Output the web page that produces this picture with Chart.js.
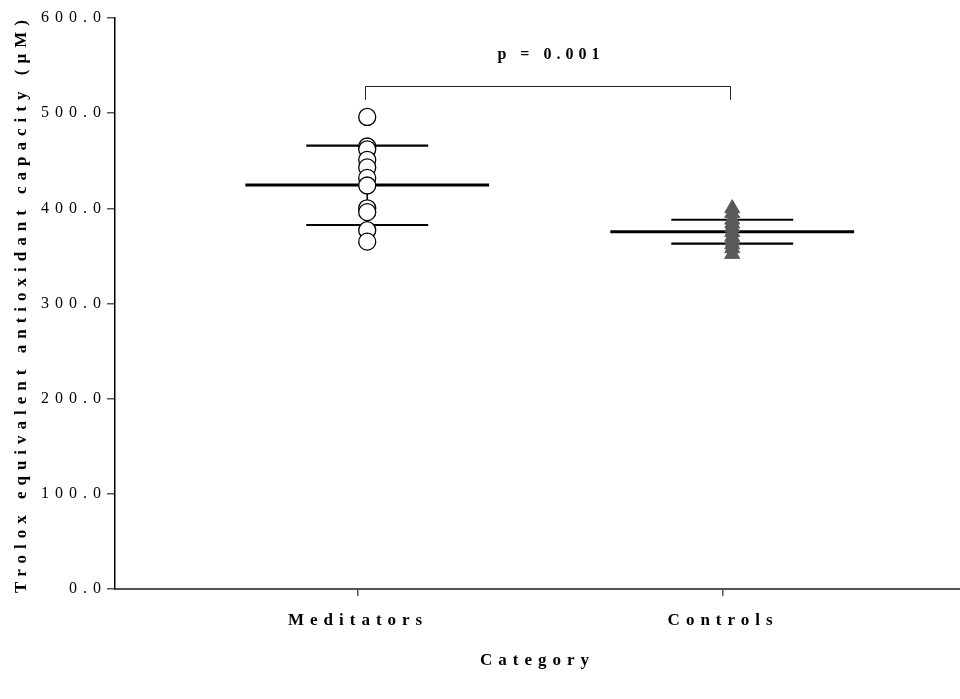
<!DOCTYPE html>
<html>
<head>
<meta charset="utf-8">
<script src="https://cdn.jsdelivr.net/npm/chart.js@4.4.1/dist/chart.umd.min.js"></script>
<style>
  html, body { margin: 0; padding: 0; background: #fff; }
  #wrap { width: 960px; height: 699px; }
</style>
</head>
<body>
<div id="wrap"><canvas id="chart" width="960" height="699"></canvas></div>
<script>
// data
const categories = ['Meditators', 'Controls'];
const groupX = [1, 2];
const meditators = [496, 465, 462, 451, 443, 432, 424, 400, 396, 377, 365];
const controls = [400, 395, 388, 384, 380, 375, 370, 366, 362, 358, 352];
const groupMean = [424.5, 375.5];
const groupUpper = [465.8, 388];
const groupLower = [382.5, 363];
const yTicks = [0, 100, 200, 300, 400, 500, 600];
const pLabel = 'p = 0.001';
const bracketY = 528.5;
const bracketLegY = 514;
const pLabelY = 561;

const markOffset = 0.025;
const meanHalf = 0.334;
const sdHalf = 0.167;
const serif = "'Liberation Serif', 'Times New Roman', serif";

const letterSpacing = {
    id: 'letterSpacing',
    beforeUpdate(chart) { chart.ctx.letterSpacing = '6px'; },
    beforeDraw(chart) { chart.ctx.letterSpacing = '6px'; }
};

// mean / SD lines and the significance bracket
const summaryLines = {
    id: 'summaryLines',
    beforeDatasetsDraw(chart) {
        const { ctx, scales: { x, y } } = chart;
        ctx.save();
        ctx.strokeStyle = '#000';
        groupX.forEach((g, i) => {
            const cx = g + markOffset;
            // vertical bar
            ctx.lineWidth = 1.5;
            ctx.beginPath();
            ctx.moveTo(x.getPixelForValue(cx), y.getPixelForValue(groupLower[i]));
            ctx.lineTo(x.getPixelForValue(cx), y.getPixelForValue(groupUpper[i]));
            ctx.stroke();
            // mean
            ctx.lineWidth = 3;
            ctx.beginPath();
            ctx.moveTo(x.getPixelForValue(cx - meanHalf), y.getPixelForValue(groupMean[i]));
            ctx.lineTo(x.getPixelForValue(cx + meanHalf), y.getPixelForValue(groupMean[i]));
            ctx.stroke();
            // sd
            ctx.lineWidth = 2.2;
            [groupUpper[i], groupLower[i]].forEach(v => {
                ctx.beginPath();
                ctx.moveTo(x.getPixelForValue(cx - sdHalf), y.getPixelForValue(v));
                ctx.lineTo(x.getPixelForValue(cx + sdHalf), y.getPixelForValue(v));
                ctx.stroke();
            });
        });
        // bracket
        const x1 = x.getPixelForValue(groupX[0] + markOffset - 0.005);
        const x2 = x.getPixelForValue(groupX[1] + markOffset - 0.005);
        const yb = Math.round(y.getPixelForValue(bracketY)) + 0.5;
        const yl = y.getPixelForValue(bracketLegY);
        ctx.lineWidth = 1;
        ctx.strokeStyle = '#222';
        ctx.beginPath();
        ctx.moveTo(Math.round(x1) + 0.5, yl);
        ctx.lineTo(Math.round(x1) + 0.5, yb);
        ctx.lineTo(Math.round(x2) + 0.5, yb);
        ctx.lineTo(Math.round(x2) + 0.5, yl);
        ctx.stroke();
        ctx.letterSpacing = '5px';
        ctx.fillStyle = '#000';
        ctx.font = 'bold 16px ' + serif;
        ctx.textAlign = 'center';
        ctx.textBaseline = 'middle';
        ctx.fillText(pLabel, (x1 + x2) / 2 + 3, y.getPixelForValue(pLabelY));
        ctx.restore();
    }
};

new Chart(document.getElementById('chart'), {
    type: 'scatter',
    data: {
        datasets: [{
            label: categories[0],
            data: meditators.map(v => ({ x: groupX[0] + markOffset, y: v })),
            pointStyle: 'circle',
            pointRadius: 8.5,
            pointBackgroundColor: '#fff',
            pointBorderColor: '#000',
            pointBorderWidth: 1.3
        }, {
            label: categories[1],
            data: controls.map(v => ({ x: groupX[1] + markOffset, y: v })),
            pointStyle: 'triangle',
            pointRadius: 8.7,
            pointBackgroundColor: '#595959',
            pointBorderColor: '#595959',
            pointBorderWidth: 1
        }]
    },
    options: {
        responsive: false,
        animation: false,
        layout: { autoPadding: false, padding: { top: 18, right: 0, left: 0, bottom: 0 } },
        plugins: {
            legend: { display: false },
            tooltip: { enabled: false }
        },
        scales: {
            x: {
                type: 'linear',
                min: 0.334,
                max: 2.649,
                afterFit: s => { s.height = 110; s.paddingLeft = 0; s.paddingRight = 0; },
                afterBuildTicks: s => { s.ticks = groupX.map(v => ({ value: v })); },
                border: { color: '#555', width: 2 },
                grid: { drawOnChartArea: false, tickLength: 7, color: '#555', lineWidth: 1.5 },
                ticks: {
                    padding: 14,
                    color: '#000',
                    font: { family: serif, size: 17, weight: 'bold' },
                    callback: v => categories[groupX.indexOf(v)] || ''
                },
                title: {
                    display: true,
                    text: 'Category',
                    color: '#000',
                    padding: { top: 28, bottom: 28 },
                    font: { family: serif, size: 17, weight: 'bold' }
                }
            },
            y: {
                min: 0,
                max: 600,
                afterFit: s => { s.width = 115; },
                afterBuildTicks: s => { s.ticks = yTicks.map(v => ({ value: v })); },
                border: { color: '#000', width: 1.5 },
                grid: { drawOnChartArea: false, tickLength: 8, color: '#555', lineWidth: 1.5 },
                ticks: {
                    padding: 0,
                    color: '#000',
                    font: { family: serif, size: 16 },
                    callback: v => v.toFixed(1)
                },
                title: {
                    display: true,
                    text: 'Trolox equivalent antioxidant capacity (µM)',
                    color: '#000',
                    padding: { top: 11 },
                    font: { family: serif, size: 17, weight: 'bold' }
                }
            }
        }
    },
    plugins: [letterSpacing, summaryLines]
});
</script>
</body>
</html>
